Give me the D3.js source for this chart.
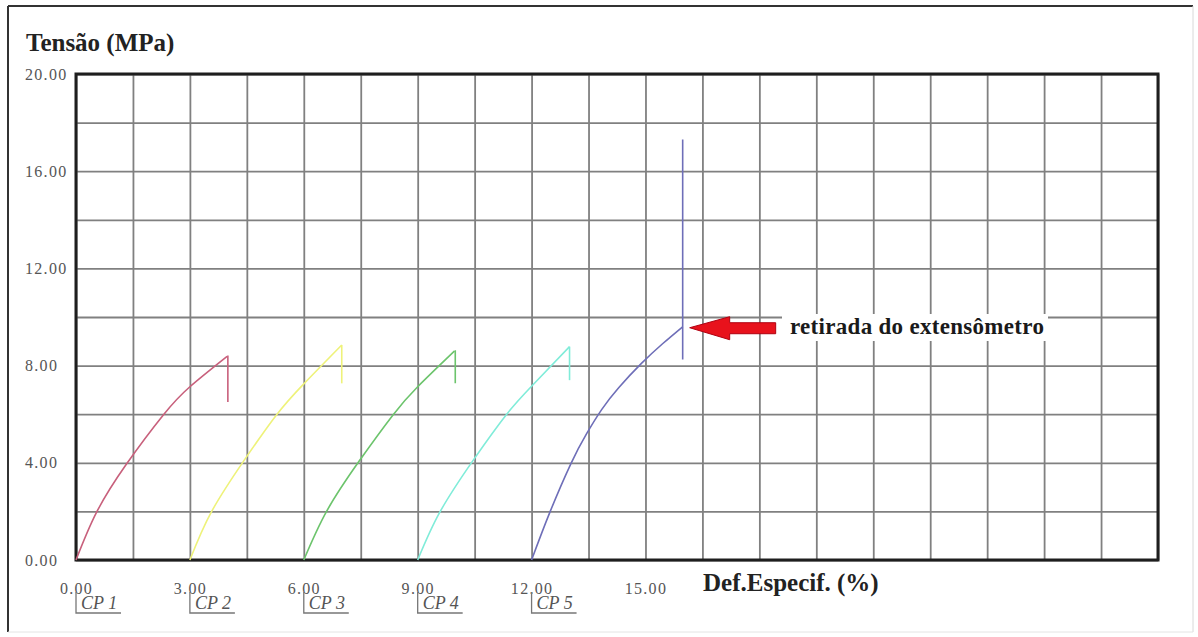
<!DOCTYPE html>
<html><head><meta charset="utf-8">
<script src="https://cdn.jsdelivr.net/npm/d3@7"></script>
<style>
html,body{margin:0;padding:0;background:#fff;}
svg{display:block;}
text{font-family:"Liberation Serif","Times New Roman",serif;}
</style></head>
<body><svg id="c" width="1198" height="637"></svg>
<script>
// ---- data ----
const xTicks = [0, 3, 6, 9, 12, 15];
const yTicks = [0, 4, 8, 12, 16, 20];
const xGridStep = 1.5, xMax = 28.5;
const yGridStep = 2, yMax = 20;
const cpLabels = ["CP 1", "CP 2", "CP 3", "CP 4", "CP 5"];
const cpOffsets = [0, 3, 6, 9, 12];
const colors = ["#c8607c", "#eef27a", "#6cc46c", "#80ecd9", "#6e6eb8"];

const cp1X = [0, 0.54, 1.33, 2.3, 3.0, 3.98];
const cp1Y = [0, 1.96, 3.95, 5.97, 7.13, 8.38];
const cp2X = [3.0, 3.57, 4.45, 5.28, 6.0, 7.0];
const cp2Y = [0, 1.99, 4.15, 5.97, 7.25, 8.85];
const cp3X = [6.0, 6.6, 7.45, 8.35, 9.0, 9.97];
const cp3Y = [0, 2.0, 4.05, 5.97, 7.13, 8.6];
const cp4X = [9.0, 9.58, 10.46, 11.33, 12.0, 13.0];
const cp4Y = [0, 1.96, 4.1, 5.97, 7.15, 8.78];
const cp5X = [12.0, 12.47, 13.04, 13.45, 13.85, 14.3, 14.9, 15.45, 15.98];
const cp5Y = [0, 1.92, 3.98, 5.2, 6.2, 7.1, 8.1, 8.9, 9.6];
// final drops (x, yTop, yBottom)
const dropX = [4.0, 7.0, 9.99, 13.0, 15.98];
const dropTop = [8.38, 8.85, 8.6, 8.78, 17.3];
const dropBottom = [6.5, 7.27, 7.27, 7.4, 8.25];

const yTitle = "Tensão (MPa)";
const xTitle = "Def.Especif. (%)";
const note = "retirada do extensômetro";
const notePoint = [15.98, 9.6];

// ---- layout ----
const svg = d3.select("#c");
const L = 76, R = 1158, T = 74, B = 560;
const x = d3.scaleLinear().domain([0, xMax]).range([L, R]);
const y = d3.scaleLinear().domain([0, yMax]).range([B, T]);
const fmt = d3.format(".2f");

// outer frame
svg.append("line").attr("x1",8).attr("y1",6).attr("x2",1193).attr("y2",6).attr("stroke","#333").attr("stroke-width",2);
svg.append("line").attr("x1",8).attr("y1",6).attr("x2",8).attr("y2",632).attr("stroke","#333").attr("stroke-width",2);
svg.append("line").attr("x1",1193).attr("y1",6).attr("x2",1193).attr("y2",632).attr("stroke","#d8d8d8").attr("stroke-width",1);
svg.append("line").attr("x1",8).attr("y1",632).attr("x2",1193).attr("y2",632).attr("stroke","#e4e4e4").attr("stroke-width",1);

// grid
const gx = d3.range(0, xMax + 0.001, xGridStep);
const gy = d3.range(0, yMax + 0.001, yGridStep);
svg.append("g").attr("transform", `translate(0,${B})`)
  .call(d3.axisBottom(x).tickValues(gx).tickSize(-(B - T)).tickFormat(""))
  .call(g => g.select(".domain").remove())
  .call(g => g.selectAll("line").attr("stroke", "#808080").attr("stroke-width", 1.8));
svg.append("g").attr("transform", `translate(${L},0)`)
  .call(d3.axisLeft(y).tickValues(gy).tickSize(-(R - L)).tickFormat(""))
  .call(g => g.select(".domain").remove())
  .call(g => g.selectAll("line").attr("stroke", "#808080").attr("stroke-width", 1.8));

// plot frame
svg.append("rect").attr("x", L).attr("y", T).attr("width", R - L).attr("height", B - T)
  .attr("fill", "none").attr("stroke", "#1e1e1e").attr("stroke-width", 3);

// tick labels
svg.append("g").attr("transform", `translate(0,${B + 28})`)
  .call(d3.axisBottom(x).tickValues(xTicks).tickSize(0).tickPadding(0).tickFormat(fmt))
  .call(g => g.select(".domain").remove())
  .call(g => g.selectAll("text").attr("font-size", 16).attr("fill", "#555")
     .attr("font-family", "'Liberation Serif',serif").attr("letter-spacing", 1.3)
     .attr("dy", "0.35em").attr("y", 0));
svg.append("g").selectAll("text").data(yTicks).join("text")
  .attr("x", 25).attr("y", d => y(d)).attr("dy", "0.35em")
  .attr("font-size", 16).attr("letter-spacing", 1.3).attr("fill", "#555")
  .text(d => fmt(d));

// titles
svg.append("text").attr("x", 26).attr("y", 51).attr("font-size", 25).attr("font-weight", "bold")
  .attr("fill", "#222").text(yTitle);
svg.append("text").attr("x", 703).attr("y", 591).attr("font-size", 25).attr("font-weight", "bold")
  .attr("fill", "#222").text(xTitle);

// CP labels
const cpG = svg.append("g").selectAll("g").data(cpLabels).join("g")
  .attr("transform", (d, i) => `translate(${x(cpOffsets[i])},0)`);
cpG.append("text").attr("x", 5).attr("y", 609).attr("font-size", 18).attr("font-style", "italic")
  .attr("fill", "#555").text(d => d);
cpG.append("path").attr("d", "M0,592 V613 H45").attr("fill", "none").attr("stroke", "#777").attr("stroke-width", 1.3);

// curves
const series = [[cp1X, cp1Y], [cp2X, cp2Y], [cp3X, cp3Y], [cp4X, cp4Y], [cp5X, cp5Y]];
const line = d3.line().x(d => x(d[0])).y(d => y(d[1])).curve(d3.curveNatural);
series.forEach(([xs, ys], i) => {
  const pts = xs.map((v, k) => [v, ys[k]]);
  svg.append("path").attr("d", line(pts)).attr("fill", "none")
    .attr("stroke", colors[i]).attr("stroke-width", 1.6);
  svg.append("path").attr("d", d3.line()([[x(xs[xs.length-1]), y(ys[ys.length-1])],[x(dropX[i]), y(dropTop[i])],[x(dropX[i]), y(dropBottom[i])]]))
    .attr("fill", "none").attr("stroke", colors[i]).attr("stroke-width", 1.6);
});

// annotation
const tipX = x(notePoint[0]) + 7, tipY = y(notePoint[1]) + 1;
svg.append("rect").attr("x", 782).attr("y", 314).attr("width", 266).attr("height", 27).attr("fill", "#fff");
svg.append("path")
  .attr("d", `M${tipX},${tipY} L${tipX+40},${tipY-11} L${tipX+40},${tipY-5} L${tipX+86},${tipY-5} L${tipX+86},${tipY+6} L${tipX+40},${tipY+6} L${tipX+40},${tipY+12} Z`)
  .attr("fill", "#e8121c").attr("stroke", "#b00010").attr("stroke-width", 1);
svg.append("text").attr("x", 790).attr("y", 334).attr("font-size", 23).attr("font-weight", "bold")
  .attr("letter-spacing", 0.3).attr("fill", "#1a1a1a").text(note);
</script></body></html>
